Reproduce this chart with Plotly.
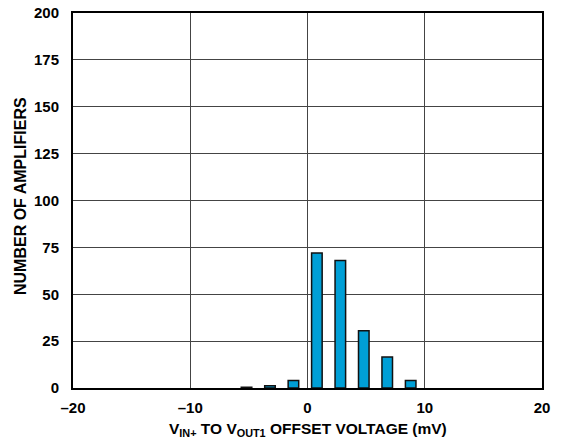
import plotly.graph_objects as go

# Histogram of VIN+ to VOUT1 offset voltage
offset_mv = [-5.2, -3.2, -1.2, 0.8, 2.8, 4.8, 6.8, 8.8]
amplifiers = [0.4, 1.2, 4, 72, 68, 30.5, 16.5, 4]

x_ticks = [-20, -10, 0, 10, 20]
x_tick_text = ["\u201320", "\u201310", "0", "10", "20"]
y_ticks = [0, 25, 50, 75, 100, 125, 150, 175, 200]

FONT = "Liberation Sans, Arial, sans-serif"
W, H = 561, 446
ML, MR, MT, MB = 73, 19, 13, 58
PW, PH = W - ML - MR, H - MT - MB

fig = go.Figure(
    go.Bar(
        x=offset_mv,
        y=amplifiers,
        width=0.9,
        marker=dict(color="#009fd6", line=dict(color="#111111", width=1.5)),
    )
)

axis_common = dict(
    tickfont=dict(size=15, weight="bold"),
    showgrid=True,
    gridcolor="#444444",
    gridwidth=1.3,
    zeroline=False,
    showline=True,
    linecolor="black",
    linewidth=2,
    mirror=True,
    ticks="",
    automargin=False,
)

fig.update_layout(
    width=W,
    height=H,
    margin=dict(l=ML, r=MR, t=MT, b=MB),
    paper_bgcolor="white",
    plot_bgcolor="white",
    showlegend=False,
    font=dict(family=FONT, color="black"),
    xaxis=dict(range=[-20, 20], tickvals=x_ticks, ticktext=x_tick_text,
               ticklabelstandoff=5, **axis_common),
    yaxis=dict(range=[0, 200], tickvals=y_ticks, ticklabelstandoff=9,
               **axis_common),
    annotations=[
        dict(
            text="V<sub>IN+</sub> TO V<sub>OUT1</sub> OFFSET VOLTAGE (mV)",
            xref="paper", yref="paper",
            x=0.5, y=-(429 - (H - MB)) / PH,
            xanchor="center", yanchor="middle",
            showarrow=False,
            font=dict(size=15.5, weight="bold"),
        ),
        dict(
            text="NUMBER OF AMPLIFIERS",
            xref="paper", yref="paper",
            x=(20 - ML) / PW, y=(H - MB - 196) / PH,
            xanchor="center", yanchor="middle",
            textangle=-90,
            showarrow=False,
            font=dict(size=16, weight="bold"),
        ),
    ],
)

fig.write_html("out.html")
